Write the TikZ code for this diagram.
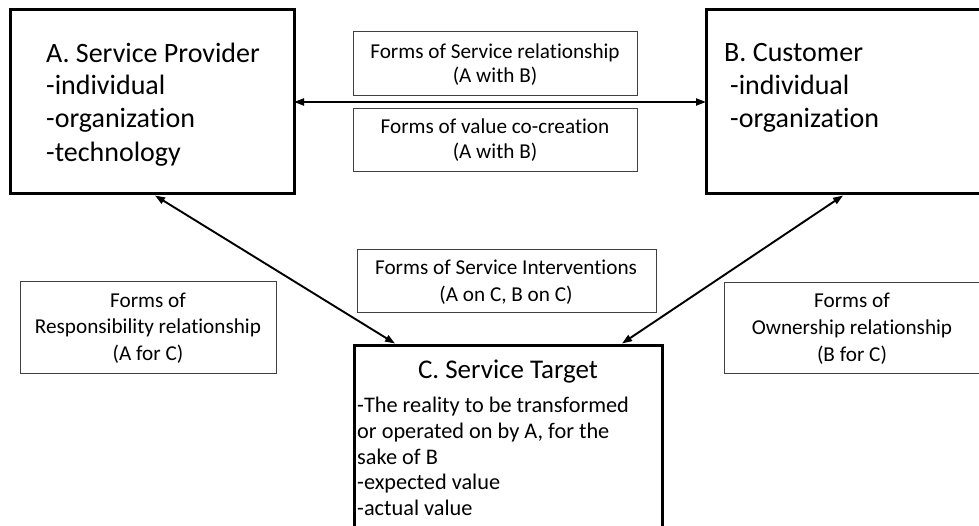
\documentclass[tikz,border=0pt]{standalone}
\usepackage{fontspec}
\setmainfont{Carlito}[Ligatures=NoCommon]
\usetikzlibrary{arrows.meta}
\begin{document}
\begin{tikzpicture}[x=1pt,y=-1pt,
  bigbox/.style={draw=black, line width=3pt, inner sep=0pt, outer sep=0pt, anchor=north west},
  smallbox/.style={draw=black!75, line width=1pt, inner sep=0pt, outer sep=0pt, anchor=north west},
  bigtxt/.style={font=\fontsize{28}{33}\selectfont, inner sep=0pt, anchor=base west},
  ctitle/.style={font=\fontsize{27}{33}\selectfont, inner sep=0pt, anchor=base},
  ctxt/.style={font=\fontsize{22.3}{26}\selectfont, inner sep=0pt, anchor=base west},
  lbl/.style={font=\fontsize{21.2}{25}\selectfont, inner sep=0pt, anchor=base},
  conn/.style={line width=1.9pt, {Triangle[length=10pt,width=7pt]}-{Triangle[length=10pt,width=7pt]}}
]
\useasboundingbox (0,0) rectangle (979,526);
\clip (0,0) rectangle (979,526);

% main boxes
\node[bigbox, minimum width=284pt, minimum height=184pt] (A) at (10,10) {};
\node[bigbox, minimum width=279pt, minimum height=184pt] (B) at (706,10) {};
\node[bigbox, minimum width=308pt, minimum height=200pt] (C) at (354,345) {};

% label boxes
\node[smallbox, minimum width=284pt, minimum height=64pt] (M1) at (353,32) {};
\node[smallbox, minimum width=284pt, minimum height=63pt] (M2) at (353,109) {};
\node[smallbox, minimum width=299pt, minimum height=63pt] (I) at (357,250) {};
\node[smallbox, minimum width=256pt, minimum height=91pt] (R) at (20,282) {};
\node[smallbox, minimum width=258pt, minimum height=90pt] (O) at (724,283) {};

% A text
\node[bigtxt] (a1) at (46,63) {A. Service Provider};
\node[bigtxt] (a2) at (46,95) {-individual};
\node[bigtxt] (a3) at (46,128) {-organization};
\node[bigtxt] (a4) at (46,162) {-technology};

% B text
\node[bigtxt] (b1) at (724,62) {B. Customer};
\node[bigtxt] (b2) at (730,95) {-individual};
\node[bigtxt] (b3) at (730,128) {-organization};

% C text
\node[ctitle] (c0) at (508,378) {C. Service Target};
\node[ctxt] (c1) at (357,412) {-The reality to be transformed};
\node[ctxt] (c2) at (357,438) {or operated on by A, for the};
\node[ctxt] (c3) at (357,464) {sake of B};
\node[ctxt] (c4) at (357,489.5) {-expected value};
\node[ctxt] (c5) at (357,515) {-actual value};

% label texts
\node[lbl] (m11) at (495,59) {Forms of Service relationship};
\node[lbl] (m12) at (495,83) {(A with B)};
\node[lbl] (m21) at (495,134) {Forms of value co-creation};
\node[lbl] (m22) at (495,159) {(A with B)};
\node[lbl] (i1) at (506,275) {Forms of Service Interventions};
\node[lbl] (i2) at (506,301.5) {(A on C, B on C)};
\node[lbl] (r1) at (148,307.5) {Forms of};
\node[lbl] (r2) at (148,334) {Responsibility relationship};
\node[lbl] (r3) at (148,360) {(A for C)};
\node[lbl] (o1) at (852,308) {Forms of};
\node[lbl] (o2) at (852,334.5) {Ownership relationship};
\node[lbl] (o3) at (852,361) {(B for C)};

% connectors
\draw[conn] (A.east) -- (B.west);
\draw[conn] ([xshift=3pt,yshift=-1.5pt]A.south) -- ([xshift=41pt,yshift=1.5pt]C.north west);
\draw[conn] ([xshift=-2.5pt,yshift=-1.5pt]B.south) -- ([xshift=-40pt,yshift=1.5pt]C.north east);
\end{tikzpicture}
\end{document}
